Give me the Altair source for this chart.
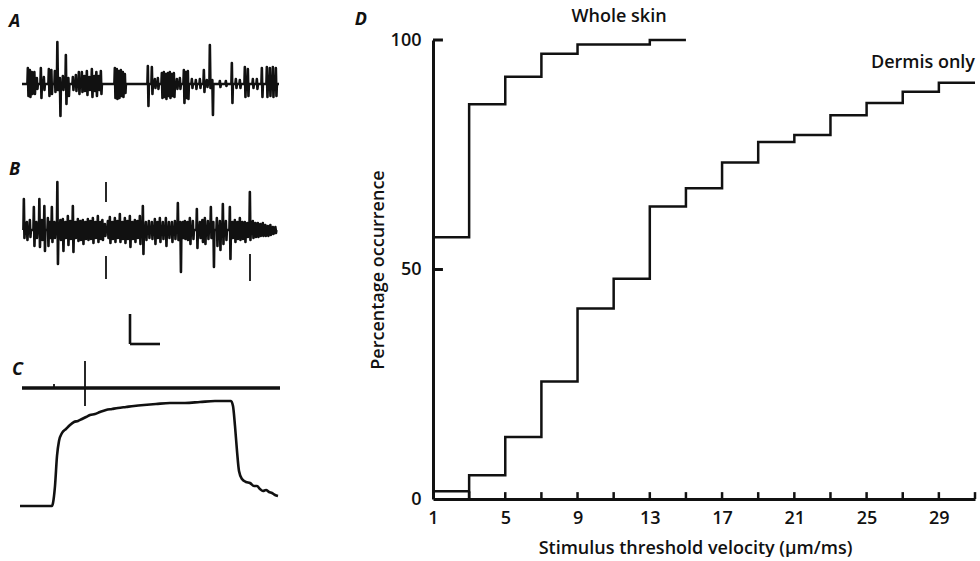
import altair as alt
import pandas as pd

FONT = "Open Sans"
INK = "#111111"
TW = 600  # text weight

# ---------------- Panel A : spike train (time, upward, downward deflection) ----------------
A_t  = [28, 30, 32, 34.5, 37, 41, 44, 49, 51.5, 55, 57.5, 60, 63, 66, 68.5, 73, 76, 79, 82, 84.5,
        87, 89.5, 92, 94.5, 96.5, 99, 101, 115, 117, 119, 121, 123, 125, 148, 152, 155, 158, 162,
        164, 166, 168, 170, 172, 174, 177, 180, 184, 186, 188, 192, 196, 200, 204, 207, 210, 212.5,
        220, 226, 232, 236, 240, 245, 248, 253, 257, 262, 267, 270, 273, 276]
A_up = [16, 14, 12, 12, 6, 16, 7, 15, 14, 13, 42, 6, 8, 29, 6, 7, 9, 12, 12, 8,
        13, 7, 15, 8, 12, 8, 13, 16, 15, 13, 14, 12, 10, 18, 17, 5, 6, 11,
        12, 10, 11, 12, 10, 11, 5, 6, 14, 12, 13, 5, 4, 5, 14, 4, 39, 4,
        3, 3, 21, 5, 4, 17, 15, 5, 5, 16, 17, 16, 17, 16]
A_dn = [12, 13, 10, 10, 5, 14, 6, 12, 10, 8, 6, 32, 6, 20, 12, 6, 7, 10, 8, 7,
        11, 6, 13, 7, 12, 6, 10, 14, 15, 14, 12, 13, 9, 22, 10, 4, 5, 14,
        13, 15, 12, 14, 12, 13, 5, 5, 19, 14, 15, 4, 5, 4, 8, 3, 4, 31,
        3, 2, 19, 4, 4, 13, 12, 4, 5, 13, 13, 12, 13, 12]
A_span = [22, 279]

# ---------------- Panel B ----------------
B_t  = [24, 27, 30, 34, 36.5, 39.5, 42, 44.5, 48, 50, 52, 54.5, 57.5, 60.5, 63, 65.5, 68, 70.5,
        73, 75.5, 78, 80.5, 83, 85.5, 88, 90.5, 93, 95.5, 98, 100.5, 102.5, 105, 108, 110, 112.5,
        115, 117.5, 120, 122.5, 125, 127.5, 130, 132.5, 135, 137.5, 140, 143, 146, 149, 152, 155,
        157.5, 160, 163, 166, 169, 172, 175, 178, 180.5, 183, 185, 187.5, 190, 193, 197, 200,
        202.5, 205, 208, 211, 213.5, 217, 220, 223, 226, 230, 232.5, 235, 237.5, 240, 242.5, 245,
        247.5, 250, 253, 255.5, 258, 260.5, 263, 265.5, 268, 270.5, 273, 275.5]
B_up = [31, 8, 10, 23, 8, 31, 10, 24, 12, 8, 23, 8, 48, 10, 11, 8, 14, 9,
        24, 8, 11, 9, 10, 8, 11, 9, 12, 8, 14, 8, 10, 6, 9, 13, 8,
        12, 9, 16, 8, 12, 9, 14, 8, 10, 9, 14, 24, 8, 9, 8, 11,
        8, 12, 8, 12, 8, 8, 9, 27, 8, 8, 9, 8, 12, 9, 21, 8,
        10, 12, 9, 23, 8, 12, 9, 26, 9, 23, 8, 10, 8, 12, 8, 8,
        7, 38, 9, 7, 7, 6, 7, 5, 4, 5, 3, 3]
B_dn = [8, 10, 7, 16, 8, 17, 10, 21, 16, 8, 12, 8, 34, 10, 21, 8, 15, 9,
        22, 8, 11, 10, 14, 9, 10, 9, 13, 8, 12, 9, 10, 6, 8, 13, 9,
        12, 8, 12, 9, 13, 9, 17, 9, 12, 8, 14, 24, 10, 8, 9, 14,
        8, 12, 9, 16, 8, 12, 9, 10, 42, 8, 9, 10, 14, 9, 18, 8,
        12, 14, 9, 8, 37, 16, 20, 14, 10, 29, 8, 12, 9, 10, 9, 12,
        7, 10, 8, 7, 7, 6, 6, 6, 6, 5, 4, 3]
B_span = [23, 277]
B_mark_t  = [106, 106, 250]
B_mark_lo = [28, -49, -51]
B_mark_hi = [48, -26, -24]
B_bar_t0, B_bar_dt = 130, 30
B_bar_v0, B_bar_dv = -114, 30

# ---------------- Panel C ----------------
C_t = [20, 52, 53, 55, 57, 59, 62, 66, 70, 74, 78, 82, 86, 90, 95, 100, 106, 112, 118, 126, 134,
       144, 156, 170, 185, 200, 215, 226, 231, 233, 235, 237, 239, 242, 246, 250, 254, 257, 260,
       263, 266, 269, 272, 275, 278]
C_v = [0, 0, 3, 20, 50, 65, 73, 77, 81, 84, 85, 87, 89, 91, 92, 94, 96, 97, 98, 99, 100,
       101, 102, 103, 103, 104, 105, 105, 105, 100, 80, 55, 35, 27, 24, 23, 20, 20, 17,
       15, 16, 14, 13, 11, 10]
C_event_level = 118
C_event_span = [22, 280]
C_marker_t, C_marker_lo, C_marker_hi = 85, 100, 145
C_tick_t, C_tick_hi = 54, 122

# ---------------- Panel D : cumulative distributions ----------------
WS_edges = [1, 3, 5, 7, 9, 13, 15]
WS_vals = [57, 86, 92, 97, 99, 100]
DM_edges = [1, 3, 5, 7, 9, 11, 13, 15, 17, 19, 21, 23, 25, 27, 29, 31]
DM_vals = [1.7, 5.2, 13.5, 25.6, 41.5, 48, 63.7, 67.7, 73.3, 77.8, 79.3, 83.6, 86.3, 88.7, 90.7]
X_tick_values = [3, 5, 7, 9, 11, 13, 15, 17, 19, 21, 23, 25, 27, 29, 31]
X_label_values = [1, 5, 9, 13, 17, 21, 25, 29]
Y_label_values = [0, 50, 100]


def spike_trace(ts, ups, dns, span):
    rows = [(span[0], 0)]
    for t, u, d in zip(ts, ups, dns):
        rows += [(t - 0.6, 0), (t - 0.15, u), (t + 0.45, -d), (t + 0.9, 0)]
    rows.append((span[1], 0))
    return pd.DataFrame({"t": [r[0] for r in rows], "v": [r[1] for r in rows],
                         "o": list(range(len(rows)))})


XS = alt.Scale(domain=[8, 282], nice=False, zero=False)
LW = 274


def letter(lbl, t, v, ydom):
    return alt.Chart(pd.DataFrame({"t": [t], "v": [v], "l": [lbl]})).mark_text(
        align="left", baseline="middle", font=FONT, fontSize=18, fontStyle="italic",
        fontWeight="bold", color=INK
    ).encode(x=alt.X("t:Q", scale=XS, axis=None),
             y=alt.Y("v:Q", scale=alt.Scale(domain=ydom, nice=False, zero=False), axis=None),
             text="l:N")


# Panel A
A_dom = [-47, 44]
A_ys = alt.Scale(domain=A_dom, nice=False, zero=False)
A_line = alt.Chart(spike_trace(A_t, A_up, A_dn, A_span)).mark_line(
    color=INK, strokeWidth=2.6, strokeJoin="round").encode(
    x=alt.X("t:Q", scale=XS, axis=None), y=alt.Y("v:Q", scale=A_ys, axis=None), order="o:Q")
panelA = alt.layer(A_line, letter("A", 9, 62, A_dom)).properties(width=LW, height=91)

# Panel B
B_dom = [-126, 99]
B_ys = alt.Scale(domain=B_dom, nice=False, zero=False)
B_line = alt.Chart(spike_trace(B_t, B_up, B_dn, B_span)).mark_line(
    color=INK, strokeWidth=2.6, strokeJoin="round").encode(
    x=alt.X("t:Q", scale=XS, axis=None), y=alt.Y("v:Q", scale=B_ys, axis=None), order="o:Q")
B_marks = alt.Chart(pd.DataFrame({"t": B_mark_t, "lo": B_mark_lo, "hi": B_mark_hi})).mark_rule(
    color=INK, strokeWidth=1.8).encode(
    x=alt.X("t:Q", scale=XS, axis=None), y=alt.Y("lo:Q", scale=B_ys, axis=None), y2="hi:Q")
bar_df = pd.DataFrame({"t0": [B_bar_t0, B_bar_t0], "t1": [B_bar_t0, B_bar_t0 + B_bar_dt],
                       "v0": [B_bar_v0, B_bar_v0], "v1": [B_bar_v0 + B_bar_dv, B_bar_v0]})
B_bar = alt.Chart(bar_df).mark_rule(color=INK, strokeWidth=2.6).encode(
    x=alt.X("t0:Q", scale=XS, axis=None), x2="t1:Q",
    y=alt.Y("v0:Q", scale=B_ys, axis=None), y2="v1:Q")
panelB = alt.layer(B_line, B_marks, B_bar, letter("B", 9, 60, B_dom)).properties(width=LW, height=225)

# Panel C
C_dom = [-10, 150]
C_ys = alt.Scale(domain=C_dom, nice=False, zero=False)
C_line = alt.Chart(pd.DataFrame({"t": C_t, "v": C_v, "o": list(range(len(C_t)))})).mark_line(
    color=INK, strokeWidth=2.6, interpolate="monotone").encode(
    x=alt.X("t:Q", scale=XS, axis=None), y=alt.Y("v:Q", scale=C_ys, axis=None), order="o:Q")
C_event = alt.Chart(pd.DataFrame({"t0": [C_event_span[0]], "t1": [C_event_span[1]],
                                  "v": [C_event_level]})).mark_rule(color=INK, strokeWidth=3.4).encode(
    x=alt.X("t0:Q", scale=XS, axis=None), x2="t1:Q", y=alt.Y("v:Q", scale=C_ys, axis=None))
C_marks = alt.Chart(pd.DataFrame({"t": [C_marker_t, C_tick_t], "lo": [C_marker_lo, C_event_level],
                                  "hi": [C_marker_hi, C_tick_hi]})).mark_rule(
    color=INK, strokeWidth=1.8).encode(
    x=alt.X("t:Q", scale=XS, axis=None), y=alt.Y("lo:Q", scale=C_ys, axis=None), y2="hi:Q")
panelC = alt.layer(C_line, C_event, C_marks, letter("C", 12, 136, C_dom)).properties(width=LW, height=160)

left = alt.vconcat(panelA, panelB, panelC, spacing=0)

# Panel D
DXS = alt.Scale(domain=[1, 31], nice=False, zero=False)
DYS = alt.Scale(domain=[0, 100], nice=False, zero=False)
x_axis = alt.Axis(values=X_label_values, title="Stimulus threshold velocity (µm/ms)", ticks=False,
                  grid=False, domainWidth=3, domainColor=INK, labelFontSize=18, labelFont=FONT,
                  labelFontWeight=TW, labelColor=INK, labelPadding=10, labelFlush=False,
                  titleFontSize=18, titleFont=FONT, titleFontWeight=TW, titleColor=INK,
                  titlePadding=12, titleX=262)
y_axis = alt.Axis(values=Y_label_values, title="Percentage occurrence", ticks=False, grid=False,
                  domainWidth=3, domainColor=INK, labelFontSize=18, labelFont=FONT,
                  labelFontWeight=TW, labelColor=INK, labelPadding=12, labelFlush=False,
                  titleFontSize=18, titleFont=FONT, titleFontWeight=TW, titleColor=INK,
                  titlePadding=3)


def dx(f):
    return alt.X(f, scale=DXS, axis=x_axis)


def dy(f):
    return alt.Y(f, scale=DYS, axis=y_axis)


ws_df = pd.DataFrame({"x": WS_edges, "y": WS_vals + [WS_vals[-1]]})
dm_df = pd.DataFrame({"x": DM_edges, "y": DM_vals + [DM_vals[-1]]})
ws_line = alt.Chart(ws_df).mark_line(interpolate="step-after", color=INK, strokeWidth=2.5).encode(
    x=dx("x:Q"), y=dy("y:Q"))
dm_line = alt.Chart(dm_df).mark_line(interpolate="step-after", color=INK, strokeWidth=2.5).encode(
    x=dx("x:Q"), y=dy("y:Q"))
dm_first = alt.Chart(pd.DataFrame({"x": [DM_edges[1]], "y0": [0], "y1": [DM_vals[0]]})).mark_rule(
    color=INK, strokeWidth=2.5).encode(x=dx("x:Q"), y=dy("y0:Q"), y2="y1:Q")
xt = alt.Chart(pd.DataFrame({"x": X_tick_values, "y0": [0] * len(X_tick_values),
                             "y1": [1.5] * len(X_tick_values)})).mark_rule(
    color=INK, strokeWidth=2.5).encode(x=dx("x:Q"), y=dy("y0:Q"), y2="y1:Q")
yt = alt.Chart(pd.DataFrame({"y": [50, 100], "x0": [1, 1], "x1": [1.55, 1.55]})).mark_rule(
    color=INK, strokeWidth=3).encode(x=dx("x0:Q"), x2="x1:Q", y=dy("y:Q"))
ws_lab = alt.Chart(pd.DataFrame({"x": [11.3], "y": [105], "l": ["Whole skin"]})).mark_text(
    align="center", baseline="middle", font=FONT, fontSize=18, fontWeight=TW, color=INK).encode(
    x=dx("x:Q"), y=dy("y:Q"), text="l:N")
dm_lab = alt.Chart(pd.DataFrame({"x": [31], "y": [95], "l": ["Dermis only"]})).mark_text(
    align="right", baseline="middle", font=FONT, fontSize=18, fontWeight=TW, color=INK).encode(
    x=dx("x:Q"), y=dy("y:Q"), text="l:N")
d_lab = alt.Chart(pd.DataFrame({"x": [-3.0], "y": [104.4], "l": ["D"]})).mark_text(
    align="center", baseline="middle", font=FONT, fontSize=18, fontStyle="italic", fontWeight="bold",
    color=INK).encode(x=dx("x:Q"), y=dy("y:Q"), text="l:N")

panelD = alt.layer(xt, yt, dm_first, ws_line, dm_line, ws_lab, dm_lab, d_lab).properties(
    width=542, height=459)

chart = alt.hconcat(left, panelD, spacing=70).properties(
    padding={"left": 8, "top": 8, "right": 0, "bottom": 0}, background="white"
).configure_view(stroke=None)

chart.save("out.html", embed_options={"renderer": "svg", "actions": False})
